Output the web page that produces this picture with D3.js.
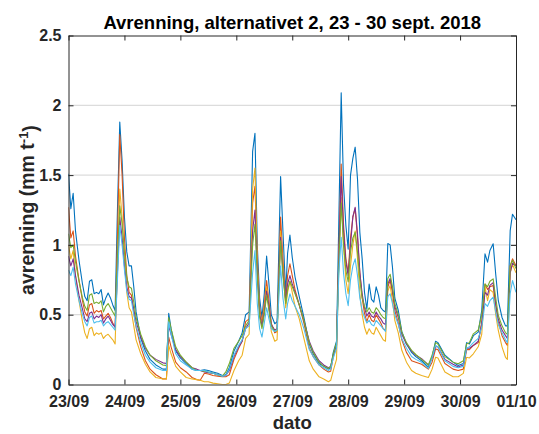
<!DOCTYPE html>
<html>
<head>
<meta charset="utf-8">
<script src="https://cdn.jsdelivr.net/npm/d3@7/dist/d3.min.js"></script>
<style>
  html, body { margin: 0; padding: 0; background: #ffffff; }
  svg { display: block; }
  text { font-family: "Liberation Sans", Arial, Helvetica, sans-serif; font-weight: bold; }
</style>
</head>
<body>
<svg id="chart" width="539" height="434"></svg>
<script>
// ---- data (hours since 23/09 00:00) ----
const hours = [0,1,2,3,4.5,6,7,8,9,10,11,12,13,14,15,16,17,18,19,20,21,22,23,24,25,26,27,28,29,31,33,35,37.5,40.5,42,43,44,46,48,50.5,53,55,56.5,58.3,60,62,64,66,67.5,69,71,73,74.5,76,77.5,79,80,81,82,83,84,85,86,87,88.5,89.5,91,92,93.2,94,95,96,97.2,99,101,103.3,105,107.5,109.5,111.5,112.5,113.6,115,116,117,118,119,120,121,122,123,124,125,126,127,128,129,130,131,132,133,134,135,136,137,138,139,140,141.5,143,145,147.2,149,151.5,154.4,156,157.5,158.5,161.5,165,167.2,169.4,170.8,172,173.7,175.8,177.3,178.7,179.8,180.8,182.2,183.3,184.4,186,187.5,188.3,189.5,190.5,192];

const serie1 = [1.51,1.26,1.37,1.10,0.89,0.72,0.63,0.60,0.74,0.75,0.65,0.66,0.65,0.68,0.57,0.62,0.655,0.62,0.57,0.53,1.25,1.88,1.60,1.20,0.95,0.85,0.85,0.70,0.52,0.33,0.24,0.18,0.14,0.11,0.11,0.51,0.40,0.24,0.19,0.15,0.11,0.10,0.10,0.105,0.10,0.09,0.08,0.065,0.07,0.12,0.24,0.31,0.37,0.50,0.52,1.67,1.80,1.00,0.62,0.48,0.65,0.92,0.72,0.50,0.435,0.45,1.49,1.10,0.65,0.94,1.07,0.91,0.77,0.63,0.48,0.29,0.22,0.15,0.13,0.11,0.12,0.23,0.31,1.19,2.09,1.43,1.14,0.97,1.50,1.62,1.70,1.47,1.09,0.90,0.66,0.54,0.72,0.61,0.59,0.70,0.64,0.55,0.53,0.52,1.01,1.00,0.84,0.62,0.53,0.38,0.29,0.23,0.20,0.17,0.124,0.20,0.31,0.30,0.21,0.16,0.136,0.15,0.30,0.29,0.35,0.375,0.53,0.936,0.876,0.96,1.008,0.79,0.60,0.48,0.42,0.42,1.10,1.22,1.18];

const serie2 = [1.27,1.05,1.10,0.92,0.75,0.60,0.52,0.49,0.57,0.58,0.51,0.53,0.52,0.53,0.47,0.49,0.51,0.48,0.44,0.41,1.05,1.79,1.50,1.05,0.78,0.66,0.64,0.52,0.41,0.27,0.17,0.11,0.07,0.04,0.04,0.34,0.27,0.16,0.12,0.09,0.05,0.035,0.03,0.08,0.075,0.065,0.06,0.055,0.055,0.07,0.18,0.26,0.31,0.45,0.47,1.30,1.42,0.90,0.55,0.44,0.58,0.745,0.60,0.44,0.37,0.38,1.20,0.90,0.60,0.78,0.865,0.78,0.68,0.57,0.44,0.26,0.20,0.14,0.11,0.09,0.095,0.20,0.28,0.95,1.58,1.15,0.90,0.80,1.05,1.20,1.26,1.05,0.80,0.62,0.51,0.45,0.50,0.46,0.45,0.50,0.47,0.44,0.40,0.39,0.70,0.745,0.66,0.53,0.44,0.32,0.23,0.17,0.16,0.145,0.11,0.16,0.255,0.25,0.15,0.11,0.10,0.11,0.25,0.25,0.28,0.30,0.45,0.72,0.68,0.70,0.71,0.56,0.45,0.35,0.30,0.28,0.85,0.90,0.85];

const serie3 = [1.00,0.90,0.96,0.78,0.60,0.45,0.37,0.33,0.40,0.41,0.35,0.37,0.36,0.37,0.33,0.35,0.36,0.34,0.32,0.29,0.85,1.40,1.20,0.90,0.66,0.55,0.52,0.42,0.32,0.22,0.145,0.09,0.05,0.04,0.04,0.28,0.22,0.13,0.09,0.05,0.04,0.035,0.03,0.02,0.02,0.01,0.005,0.0,0.0,0.01,0.10,0.17,0.21,0.33,0.36,1.40,1.55,0.85,0.52,0.42,0.55,0.70,0.56,0.38,0.31,0.32,1.10,0.85,0.55,0.66,0.74,0.66,0.56,0.47,0.33,0.17,0.11,0.055,0.04,0.02,0.03,0.10,0.18,0.90,1.34,1.00,0.75,0.65,0.85,1.00,1.10,0.90,0.65,0.50,0.41,0.36,0.40,0.37,0.36,0.41,0.38,0.35,0.32,0.31,0.67,0.71,0.60,0.46,0.37,0.245,0.16,0.10,0.08,0.064,0.05,0.11,0.195,0.19,0.09,0.055,0.055,0.08,0.195,0.19,0.22,0.27,0.36,0.70,0.60,0.68,0.66,0.50,0.387,0.27,0.195,0.18,0.80,0.86,0.80];

const serie4 = [0.92,0.85,0.90,0.78,0.64,0.54,0.47,0.45,0.51,0.52,0.47,0.49,0.48,0.50,0.44,0.47,0.49,0.46,0.43,0.41,0.80,1.20,1.05,0.85,0.70,0.63,0.62,0.54,0.45,0.34,0.26,0.21,0.18,0.155,0.15,0.42,0.36,0.25,0.20,0.16,0.12,0.11,0.10,0.09,0.085,0.08,0.07,0.06,0.065,0.10,0.20,0.27,0.31,0.40,0.44,1.10,1.25,0.80,0.50,0.42,0.52,0.67,0.56,0.43,0.39,0.40,1.055,0.80,0.60,0.72,0.78,0.72,0.66,0.57,0.46,0.31,0.24,0.17,0.14,0.12,0.13,0.21,0.28,0.90,1.49,1.10,0.88,0.78,1.00,1.20,1.27,1.08,0.80,0.65,0.55,0.49,0.52,0.49,0.48,0.52,0.49,0.47,0.44,0.43,0.72,0.76,0.68,0.56,0.48,0.36,0.29,0.24,0.21,0.185,0.14,0.19,0.27,0.27,0.18,0.145,0.125,0.14,0.26,0.26,0.28,0.31,0.43,0.66,0.64,0.71,0.73,0.58,0.47,0.39,0.35,0.33,0.80,0.87,0.85];

const serie5 = [1.08,0.98,1.00,0.88,0.74,0.62,0.56,0.53,0.64,0.65,0.58,0.59,0.58,0.60,0.52,0.56,0.58,0.55,0.52,0.49,0.90,1.28,1.15,0.95,0.77,0.70,0.69,0.59,0.48,0.36,0.27,0.21,0.17,0.14,0.135,0.48,0.40,0.27,0.21,0.16,0.12,0.10,0.10,0.095,0.09,0.08,0.07,0.06,0.09,0.15,0.26,0.31,0.35,0.42,0.46,1.00,1.15,0.78,0.48,0.40,0.50,0.64,0.53,0.42,0.38,0.39,1.03,0.78,0.58,0.68,0.74,0.70,0.65,0.57,0.46,0.30,0.23,0.16,0.13,0.115,0.13,0.22,0.30,0.85,1.30,1.00,0.82,0.735,0.95,1.05,1.09,0.95,0.75,0.62,0.56,0.52,0.55,0.52,0.51,0.55,0.53,0.50,0.48,0.47,0.76,0.79,0.70,0.58,0.50,0.375,0.30,0.245,0.215,0.18,0.14,0.21,0.30,0.29,0.20,0.16,0.148,0.17,0.29,0.30,0.363,0.39,0.50,0.72,0.70,0.74,0.757,0.62,0.494,0.42,0.37,0.36,0.85,0.89,0.83];

const serie6 = [0.82,0.78,0.84,0.72,0.60,0.50,0.45,0.42,0.48,0.49,0.44,0.45,0.45,0.46,0.42,0.44,0.45,0.43,0.41,0.39,0.75,1.14,1.00,0.82,0.67,0.61,0.60,0.50,0.42,0.30,0.21,0.16,0.12,0.10,0.10,0.45,0.36,0.22,0.17,0.14,0.11,0.10,0.10,0.10,0.09,0.08,0.07,0.06,0.065,0.11,0.21,0.28,0.32,0.40,0.42,0.80,0.96,0.58,0.40,0.34,0.44,0.55,0.47,0.40,0.38,0.39,0.85,0.62,0.47,0.58,0.65,0.60,0.56,0.50,0.40,0.25,0.20,0.14,0.12,0.10,0.11,0.19,0.26,0.80,1.055,0.80,0.65,0.565,0.75,0.85,0.90,0.78,0.62,0.53,0.48,0.44,0.46,0.43,0.42,0.46,0.44,0.42,0.40,0.38,0.63,0.65,0.58,0.50,0.43,0.33,0.26,0.20,0.18,0.16,0.115,0.19,0.28,0.27,0.17,0.13,0.12,0.13,0.26,0.27,0.30,0.33,0.41,0.58,0.56,0.60,0.625,0.52,0.43,0.37,0.32,0.30,0.65,0.745,0.66];

const seriesList = [serie1, serie2, serie3, serie4, serie5, serie6];
const seriesColors = ["#0072BD", "#D95319", "#EDB120", "#7E2F8E", "#77AC30", "#4DBEEE"];

const dayLabels = ["23/09","24/09","25/09","26/09","27/09","28/09","29/09","30/09","01/10"];
const dayHours = [0,24,48,72,96,120,144,168,192];
const yTickValues = [0, 0.5, 1, 1.5, 2, 2.5];
const yTickLabels = ["0","0.5","1","1.5","2","2.5"];

const titleText = "Avrenning, alternativet 2, 23 - 30 sept. 2018";
const xLabelText = "dato";

// ---- layout ----
const L = 68.5, R = 516, T = 35.5, B = 384.5;
const svg = d3.select("#chart");
const x = d3.scaleLinear().domain([0, 192]).range([L, R]);
const y = d3.scaleLinear().domain([0, 2.5]).range([B, T]);
const axisColor = "#262626";

// grid
svg.append("g").selectAll("line")
  .data(yTickValues.filter(v => v > 0 && v < 2.5))
  .join("line")
  .attr("x1", L).attr("x2", R)
  .attr("y1", d => y(d)).attr("y2", d => y(d))
  .attr("stroke", "#dcdcdc").attr("stroke-width", 1.3);

// clip
svg.append("defs").append("clipPath").attr("id", "clip")
  .append("rect").attr("x", L).attr("y", T).attr("width", R - L).attr("height", B - T);

const line = d3.line().x((d, i) => x(hours[i])).y(d => y(d));
const lines = svg.append("g").attr("clip-path", "url(#clip)");
seriesList.forEach((s, k) => {
  lines.append("path").datum(s)
    .attr("d", line)
    .attr("fill", "none")
    .attr("stroke", seriesColors[k])
    .attr("stroke-width", 1.1)
    .attr("stroke-linejoin", "round");
});

// axes
const fs = 16;
const xAxisB = d3.axisBottom(x).tickValues(dayHours).tickFormat((d, i) => dayLabels[i]).tickSizeInner(-5).tickSizeOuter(0).tickPadding(11);
const gxb = svg.append("g").attr("transform", `translate(0,${B})`).call(xAxisB);
const xAxisT = d3.axisTop(x).tickValues(dayHours).tickFormat("").tickSizeInner(-5).tickSizeOuter(0);
const gxt = svg.append("g").attr("transform", `translate(0,${T})`).call(xAxisT);
const yAxisL = d3.axisLeft(y).tickValues(yTickValues).tickFormat((d, i) => yTickLabels[i]).tickSizeInner(-5).tickSizeOuter(0).tickPadding(7);
const gyl = svg.append("g").attr("transform", `translate(${L},0)`).call(yAxisL);
const yAxisR = d3.axisRight(y).tickValues(yTickValues).tickFormat("").tickSizeInner(-5).tickSizeOuter(0);
const gyr = svg.append("g").attr("transform", `translate(${R},0)`).call(yAxisR);

[gxb, gxt, gyl, gyr].forEach(g => {
  g.select(".domain").attr("stroke", axisColor).attr("stroke-width", 1);
  g.selectAll(".tick line").attr("stroke", axisColor).attr("stroke-width", 1);
  g.selectAll(".tick text").attr("fill", axisColor).style("font-size", fs + "px")
    .style("font-family", '"Liberation Sans", Arial, sans-serif').style("font-weight", "bold");
});

// title
svg.append("text").attr("x", (L + R) / 2).attr("y", 29)
  .attr("text-anchor", "middle").attr("fill", "#000")
  .style("font-size", "18.5px").text(titleText);

// x label
svg.append("text").attr("x", (L + R) / 2).attr("y", 429)
  .attr("text-anchor", "middle").attr("fill", axisColor)
  .style("font-size", "18.5px").text(xLabelText);

// y label
const yl = svg.append("text")
  .attr("transform", `translate(34,${(T + B) / 2}) rotate(-90)`)
  .attr("text-anchor", "middle").attr("fill", axisColor)
  .style("font-size", "19.5px");
yl.append("tspan").text("avrenning (mm t");
yl.append("tspan").attr("dy", "-0.45em").style("font-size", "13px").text("-1");
yl.append("tspan").attr("dy", "0.45em").text(")");
</script>
</body>
</html>
